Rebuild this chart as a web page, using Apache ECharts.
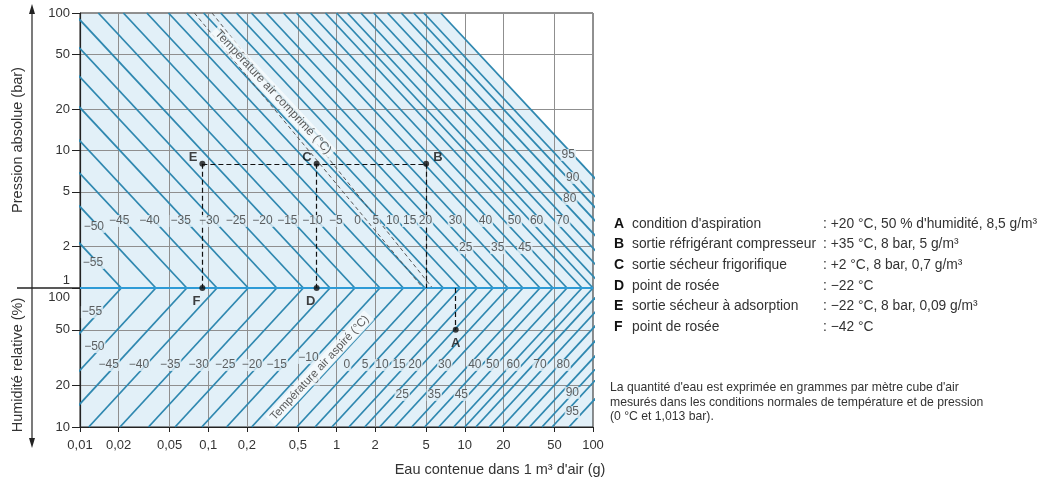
<!DOCTYPE html>
<html><head><meta charset="utf-8">
<script src="https://cdn.jsdelivr.net/npm/echarts@6/dist/echarts.min.js"></script>
<style>html,body{margin:0;padding:0;background:#fff}#c{width:1042px;height:482px}</style>
</head><body><div id="c"></div>
<script>
// ---------- data ----------
const temps       = [-55,-50,-45,-40,-35,-30,-25,-20,-15,-10,-5,0,5,10,15,20,25,30,35,40,45,50,55,60,65,70,75,80,85,90,95];
// water content (g per m3) of saturated air at 1 bar for each temperature line (chevron tips)
const waterAt1bar = [0.021,0.039,0.068,0.117,0.205,0.342,0.551,0.89,1.39,2.18,3.32,4.9,6.8,9.2,12.5,16.6,21.7,28.4,38.6,48.7,62.7,82,100,122,155,195,250,320,400,480,650];
const xTicks = [0.01,0.02,0.05,0.1,0.2,0.5,1,2,5,10,20,50,100];
const pTicks = [1,2,5,10,20,50,100];
const hTicks = [10,20,50,100];
const pointNames    = ['A','B','C','D','E','F'];
const pointWater    = [8.5,5,0.7,0.7,0.09,0.09];
const pointPressure = [null,8,8,1,8,1];
const pointHumidity = [50,null,null,null,null,null];
// dashed band "Température air comprimé": water content at 100 bar and at 1 bar
const bandAt100bar = [0.078,0.107];
const bandAt1bar   = [4.72,5.6];
// temperature labels: [temperature, pressure (bar) or humidity (%) of the label, optional water content (g)]
const topLabels = [[-55,1.52],[-50,2.78],[-45,3.07],[-40,3.07],[-35,3.07],[-30,3.07],[-25,3.07],[-20,3.07],[-15,3.07],[-10,3.07],[-5,3.07],[0,3.07],[5,3.07],[10,3.07],[15,3.07],[20,3.07],[30,3.07],[40,3.07],[50,3.07],[60,3.07],[70,3.07],[25,1.95],[35,1.95],[45,1.95],[80,4.44],[90,6.32],[95,9.28]];
const bottomLabels = [[-55,67],[-50,37.6],[-45,27.9],[-40,27.9],[-35,27.9],[-30,27.9],[-25,27.9],[-20,27.9],[-15,27.9],[-10,31.4],[-5,22],[0,27.9],[5,27.9],[10,27.9],[15,27.9],[20,27.9],[30,27.9],[40,27.9],[50,27.9,16.5],[60,27.9,23.9],[70,27.9,38.6],[80,27.9,58.5],[25,17],[35,17],[45,17],[90,17.6,69],[95,12.8,69]];
const legendRows = [
  ['A','condition d\'aspiration',': +20 °C, 50 % d\'humidité, 8,5 g/m³'],
  ['B','sortie réfrigérant compresseur',': +35 °C, 8 bar, 5 g/m³'],
  ['C','sortie sécheur frigorifique',': +2 °C, 8 bar, 0,7 g/m³'],
  ['D','point de rosée',': −22 °C'],
  ['E','sortie sécheur à adsorption',': −22 °C, 8 bar, 0,09 g/m³'],
  ['F','point de rosée',': −42 °C']
];
const noteLines = ['La quantité d\'eau est exprimée en grammes par mètre cube d\'air','mesurés dans les conditions normales de température et de pression','(0 °C et 1,013 bar).'];

// ---------- chart ----------
const lg = Math.log10;
const FILL = '#e2f0f8', LINE = '#2f88b0', GRIDC = '#8f8f8f', FONT = 'Liberation Sans, Arial, sans-serif';
const fmtNum = v => String(Number(Math.pow(10, v).toPrecision(2))).replace('.', ',');
const tname = t => (t < 0 ? '−' + (-t) : String(t));
const satOf = t => waterAt1bar[temps.indexOf(t)];

const topIso = waterAt1bar.map(s => ({coords: [[lg(s) - 2, 2], [lg(s), 0]]}));
const botIso = waterAt1bar.map(s => ({coords: [[lg(s), 2], [lg(s) - 1, 1]]}));
const sHot = waterAt1bar[waterAt1bar.length - 1];
const fillTop = [[-2, 2], [lg(sHot) - 2, 2], [2, lg(sHot) - 2]];

const topLabelData = topLabels.map(([t, p]) => ({name: tname(t), value: [lg(satOf(t) / p), lg(p)]}));
const botLabelData = bottomLabels.filter(l => l.length === 2).map(([t, h]) => ({name: tname(t), value: [lg(satOf(t) * h / 100), lg(h)]}));
const botLabelFixed = bottomLabels.filter(l => l.length === 3).map(([t, h, w]) => ({name: tname(t), value: [lg(w), lg(h)]}));

const topPts = [], botPts = [];
pointNames.forEach((n, i) => {
  if (pointPressure[i] != null) topPts.push({name: n, value: [lg(pointWater[i]), lg(pointPressure[i])]});
  else botPts.push({name: n, value: [lg(pointWater[i]), lg(pointHumidity[i])]});
});
const P = n => { const i = pointNames.indexOf(n); return [lg(pointWater[i]), pointPressure[i] != null ? lg(pointPressure[i]) : lg(pointHumidity[i])]; };
const topDash = [
  {coords: [P('E'), P('B')]},
  {coords: [P('E'), [P('E')[0], 0]]},
  {coords: [P('C'), [P('C')[0], 0]]},
  {coords: [P('B'), [P('B')[0], 0]]}
];
const botDash = [{coords: [[P('A')[0], 2], P('A')]}];
const bandLines = bandAt100bar.map((w, i) => ({coords: [[lg(w), 2], [lg(bandAt1bar[i]), 0]]}));

const labelPos = {A: 'bottom', B: 'right', C: 'left', D: 'bottom', E: 'left', F: 'bottom'};
const labelOff = {A: [0, 0], B: [0, -6], C: [2, -6], D: [-6, 0], E: [2, -6], F: [-6, 0]};

const xt = xTicks.map(lg), pt = pTicks.map(lg), ht = hTicks.map(lg);
const axisLabelStyle = {color: '#333', fontSize: 13, fontFamily: FONT};
const tLabel = (dx) => ({show: true, position: 'inside', formatter: '{b}', offset: [dx, 0], color: '#3a3a3a', fontSize: 12, fontFamily: FONT,
             backgroundColor: FILL, padding: [0, 1]});

const chart = echarts.init(document.getElementById('c'));
chart.setOption({
  animation: false,
  grid: [
    {left: 80, top: 13, width: 513, height: 275, show: true, borderColor: '#222', borderWidth: 1, backgroundColor: 'transparent'},
    {left: 80, top: 288, width: 513, height: 139, show: true, borderColor: '#222', borderWidth: 1, backgroundColor: 'transparent'}
  ],
  xAxis: [
    {gridIndex: 0, type: 'value', min: -2, max: 2, axisLine: {show: false, onZero: false}, axisTick: {show: false, customValues: xt},
     axisLabel: {show: false, customValues: xt}, splitLine: {show: true, lineStyle: {color: GRIDC, width: 1}}},
    {gridIndex: 1, type: 'value', min: -2, max: 2, axisLine: {show: true, onZero: false, lineStyle: {color: '#222', width: 1.2}},
     axisTick: {show: true, customValues: xt, length: 5, lineStyle: {color: '#222'}},
     axisLabel: Object.assign({customValues: xt, formatter: fmtNum, margin: 12}, axisLabelStyle),
     splitLine: {show: true, lineStyle: {color: GRIDC, width: 1}}}
  ],
  yAxis: [
    {gridIndex: 0, type: 'value', min: 0, max: 2, axisLine: {show: true, onZero: false, lineStyle: {color: '#222', width: 1.2}},
     axisTick: {show: true, customValues: pt, length: 8, lineStyle: {color: '#222'}},
     axisLabel: Object.assign({customValues: pt, margin: 10,
       formatter: v => v === 0 ? '{up|1}' : fmtNum(v),
       rich: {up: {fontSize: 13, fontFamily: FONT, color: '#333', padding: [0, 0, 16, 0]}}}, axisLabelStyle),
     splitLine: {show: true, lineStyle: {color: GRIDC, width: 1}}},
    {gridIndex: 1, type: 'value', min: 1, max: 2, axisLine: {show: true, onZero: false, lineStyle: {color: '#222', width: 1.2}},
     axisTick: {show: true, customValues: ht, length: 8, lineStyle: {color: '#222'}},
     axisLabel: Object.assign({customValues: ht, margin: 10,
       formatter: v => v === 2 ? '{dn|100}' : fmtNum(v),
       rich: {dn: {fontSize: 13, fontFamily: FONT, color: '#333', padding: [18, 0, 0, 0]}}}, axisLabelStyle),
     splitLine: {show: true, lineStyle: {color: GRIDC, width: 1}}}
  ],
  series: [
    // background fills
    {type: 'line', xAxisIndex: 0, yAxisIndex: 0, z: -1, data: fillTop, symbol: 'none', silent: true,
     lineStyle: {width: 0}, areaStyle: {color: FILL, origin: 'start', opacity: 1}},
    {type: 'line', xAxisIndex: 1, yAxisIndex: 1, z: -1, data: [[-2, 2], [2, 2]], symbol: 'none', silent: true,
     lineStyle: {width: 0}, areaStyle: {color: FILL, origin: 'start', opacity: 1}},
    // isotherms
    {type: 'lines', coordinateSystem: 'cartesian2d', xAxisIndex: 0, yAxisIndex: 0, data: topIso, silent: true,
     lineStyle: {color: LINE, width: 1.8, opacity: 1}, z: 2},
    {type: 'lines', coordinateSystem: 'cartesian2d', xAxisIndex: 1, yAxisIndex: 1, data: botIso, silent: true,
     lineStyle: {color: LINE, width: 1.8, opacity: 1}, z: 2},
    // dashed band in compressed-air panel
    {type: 'lines', coordinateSystem: 'cartesian2d', xAxisIndex: 0, yAxisIndex: 0, data: bandLines, silent: true,
     lineStyle: {color: '#555', width: 1, type: [4, 3], opacity: 1}, z: 3},
    // saturation line at 1 bar / 100 %
    {type: 'line', xAxisIndex: 0, yAxisIndex: 0, data: [[-2, 0], [2, 0]], symbol: 'none', clip: false, silent: true,
     lineStyle: {color: '#2e9bd6', width: 2}, z: 4},
    // dashed guides
    {type: 'lines', coordinateSystem: 'cartesian2d', xAxisIndex: 0, yAxisIndex: 0, data: topDash, silent: true,
     lineStyle: {color: '#111', width: 1.2, type: [5, 3], opacity: 1}, z: 5, clip: false},
    {type: 'lines', coordinateSystem: 'cartesian2d', xAxisIndex: 1, yAxisIndex: 1, data: botDash, silent: true,
     lineStyle: {color: '#111', width: 1.2, type: [5, 3], opacity: 1}, z: 5, clip: false},
    // temperature labels
    {type: 'scatter', xAxisIndex: 0, yAxisIndex: 0, data: topLabelData, symbolSize: 0, silent: true, z: 6, label: tLabel(-5)},
    {type: 'scatter', xAxisIndex: 1, yAxisIndex: 1, data: botLabelData, symbolSize: 0, silent: true, z: 6, label: tLabel(-7)},
    {type: 'scatter', xAxisIndex: 1, yAxisIndex: 1, data: botLabelFixed, symbolSize: 0, silent: true, z: 6, label: tLabel(0)},
    // rotated captions
    {type: 'scatter', xAxisIndex: 0, yAxisIndex: 0, data: [{name: 'Température air comprimé (°C)', value: [lg(0.32), lg(26.6)]}],
     symbolSize: 0, silent: true, z: 6,
     label: {show: true, position: 'inside', formatter: '{b}', rotate: -47, color: '#333', fontSize: 12, fontFamily: FONT,
             backgroundColor: '#f7fbfd', padding: [1, 3]}},
    {type: 'scatter', xAxisIndex: 1, yAxisIndex: 1, data: [{name: 'Température air aspiré (°C)', value: [lg(0.74), lg(26.6)]}],
     symbolSize: 0, silent: true, z: 6,
     label: {show: true, position: 'inside', formatter: '{b}', rotate: 47, color: '#333', fontSize: 11.5, fontFamily: FONT,
             backgroundColor: '#f7fbfd', padding: [1, 3]}},
    // points
    {type: 'scatter', xAxisIndex: 0, yAxisIndex: 0, symbolSize: 6, clip: false, itemStyle: {color: '#111'}, z: 7,
     data: topPts.map(d => Object.assign({}, d, {label: {position: labelPos[d.name], offset: labelOff[d.name]}})),
     label: {show: true, formatter: '{b}', fontWeight: 'bold', fontSize: 13, fontFamily: FONT, color: '#111', distance: 4}},
    {type: 'scatter', xAxisIndex: 1, yAxisIndex: 1, data: botPts, symbolSize: 6, clip: false, itemStyle: {color: '#111'}, z: 7,
     label: {show: true, formatter: '{b}', fontWeight: 'bold', fontSize: 13, fontFamily: FONT, color: '#111', position: 'bottom', distance: 4}}
  ],
  graphic: [
    {type: 'line', shape: {x1: 17, y1: 288, x2: 80, y2: 288}, style: {stroke: '#222', lineWidth: 1.5}},
    {type: 'line', shape: {x1: 32, y1: 12, x2: 32, y2: 440}, style: {stroke: '#222', lineWidth: 1.2}},
    {type: 'polygon', shape: {points: [[32, 4], [29, 14], [35, 14]]}, style: {fill: '#222'}},
    {type: 'polygon', shape: {points: [[32, 448], [29, 438], [35, 438]]}, style: {fill: '#222'}},
    {type: 'text', x: 18, y: 140, rotation: Math.PI / 2, style: {text: 'Pression absolue (bar)', font: '14.5px ' + FONT, fill: '#333', align: 'center', verticalAlign: 'middle'}},
    {type: 'text', x: 18, y: 365, rotation: Math.PI / 2, style: {text: 'Humidité relative (%)', font: '14.5px ' + FONT, fill: '#333', align: 'center', verticalAlign: 'middle'}},
    {type: 'text', x: 500, y: 470, style: {text: 'Eau contenue dans 1 m³ d\'air (g)', font: '14.5px ' + FONT, fill: '#333', align: 'center', verticalAlign: 'middle'}}
  ].concat(legendRows.map((r, i) => ({
    type: 'group', children: [
      {type: 'text', x: 614, y: 224 + i * 20.6, style: {text: r[0], font: 'bold 14px ' + FONT, fill: '#111', verticalAlign: 'middle'}},
      {type: 'text', x: 632, y: 224 + i * 20.6, style: {text: r[1], font: '13.8px ' + FONT, fill: '#333', verticalAlign: 'middle'}},
      {type: 'text', x: 823, y: 224 + i * 20.6, style: {text: r[2], font: '13.8px ' + FONT, fill: '#333', verticalAlign: 'middle'}}
    ]}))).concat(noteLines.map((t, i) => ({
      type: 'text', x: 610, y: 388 + i * 14.5, style: {text: t, font: '12.2px ' + FONT, fill: '#333', verticalAlign: 'middle'}})))
});
</script>
</body></html>
